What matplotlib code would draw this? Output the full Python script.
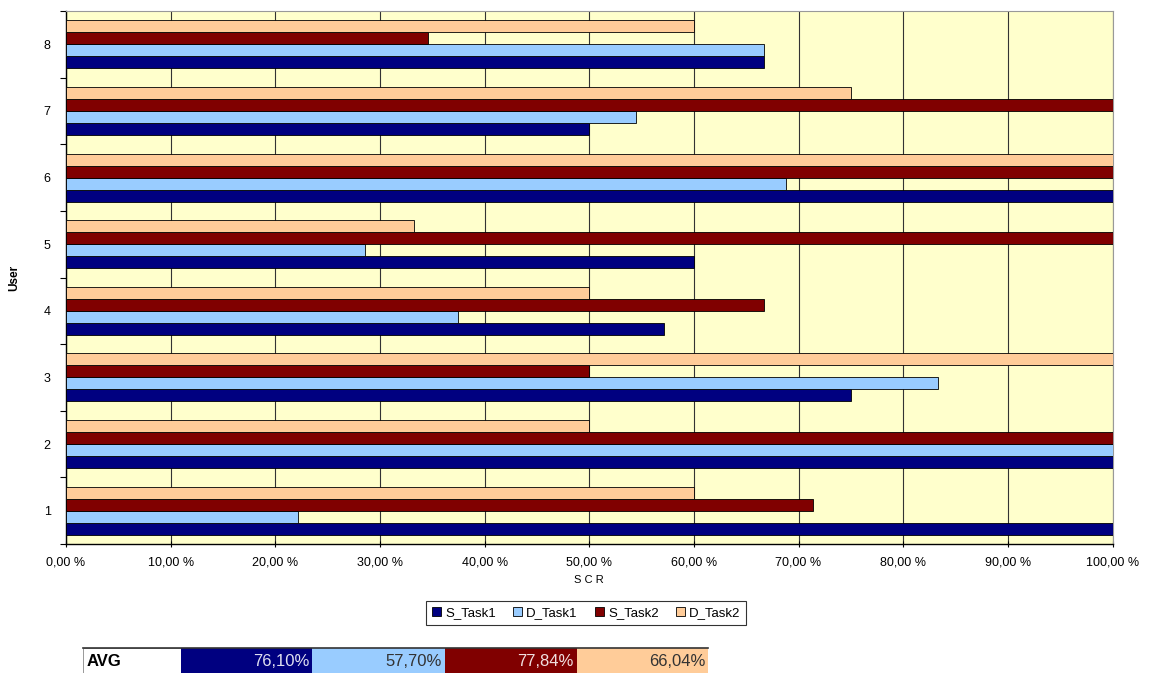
import numpy as np
import matplotlib
matplotlib.use("Agg")
import matplotlib.pyplot as plt
from matplotlib.patches import Rectangle
from matplotlib.ticker import FixedLocator

plt.rcParams["font.family"] = ["Liberation Sans", "DejaVu Sans"]

users = ["1", "2", "3", "4", "5", "6", "7", "8"]
series = ["S_Task1", "D_Task1", "S_Task2", "D_Task2"]
s_task1 = [100.0, 100.0, 75.0, 57.1, 60.0, 100.0, 50.0, 66.7]
d_task1 = [22.2, 100.0, 83.3, 37.5, 28.6, 68.8, 54.5, 66.7]
s_task2 = [71.4, 100.0, 50.0, 66.7, 100.0, 100.0, 100.0, 34.6]
d_task2 = [60.0, 50.0, 100.0, 50.0, 33.3, 100.0, 75.0, 60.0]
avg_values = [76.10, 57.70, 77.84, 66.04]
x_ticks = [0, 10, 20, 30, 40, 50, 60, 70, 80, 90, 100]

colors = ["#000080", "#99CCFF", "#800000", "#FFCC99"]
avg_text_colors = ["#E0E0F0", "#333333", "#F0E0E0", "#333333"]

fig = plt.figure(figsize=(11.49, 6.73), dpi=100)
ax = fig.add_axes([66 / 1149, 1 - 544 / 673, (1112.5 - 66) / 1149, (544 - 11) / 673])
ax.set_facecolor("#FFFFCC")

pos = np.arange(len(users))
h = 0.18
for k, (name, vals) in enumerate(zip(series, [s_task1, d_task1, s_task2, d_task2])):
    ax.barh(pos + (k - 1.5) * h, vals, height=h, color=colors[k],
            edgecolor="black", linewidth=0.6, label=name, zorder=3)

ax.set_xlim(0, 100)
ax.set_ylim(-0.5, len(users) - 0.5)
ax.set_xticks(x_ticks)
ax.set_xticklabels([f"{v:.2f}".replace(".", ",") + " %" for v in x_ticks], fontsize=9)
ax.set_yticks(pos)
ax.set_yticklabels(users, fontsize=9)
ax.tick_params(axis="y", length=0, pad=11)
ax.yaxis.set_minor_locator(FixedLocator(np.arange(-0.5, len(users), 1.0)))
ax.tick_params(axis="y", which="minor", length=4, width=0.8)
ax.tick_params(axis="x", length=4, width=0.8, direction="inout", pad=7)
ax.grid(axis="x", color="#333333", linewidth=0.8, zorder=0)
ax.set_axisbelow(True)
for side in ["top", "right"]:
    ax.spines[side].set_color("#999999")
for side in ["left", "bottom"]:
    ax.spines[side].set_linewidth(1.0)

ax.set_xlabel("S C R", fontsize=8, labelpad=5)
ax.set_ylabel("User", fontsize=8.5, fontweight="bold", labelpad=17)

leg = ax.legend(loc="upper center", bbox_to_anchor=(0.497, -0.107), ncol=4,
                prop={"size": 9.5}, frameon=True, fancybox=False, handlelength=0.7,
                handleheight=0.7, handletextpad=0.3, columnspacing=1.3,
                borderpad=0.45, borderaxespad=0, edgecolor="black")
leg.get_frame().set_linewidth(0.8)

# AVG row under the chart
tax = fig.add_axes([83 / 1149, 0, (708 - 83) / 1149, (673 - 648) / 673])
tax.set_xlim(0, 625)
tax.set_ylim(0, 25)
tax.axis("off")
tax.add_patch(Rectangle((0, 0), 98, 25, facecolor="white", edgecolor="#888888", linewidth=0.6))
tax.text(4, 12, "AVG", fontsize=12, fontweight="bold", va="center", ha="left")
widths = [131, 133, 132, 131]
x0 = 98
for k, v in enumerate(avg_values):
    tax.add_patch(Rectangle((x0, 0), widths[k], 25, facecolor=colors[k], edgecolor="none"))
    tax.text(x0 + widths[k] - 3, 12, f"{v:.2f}".replace(".", ",") + "%",
             fontsize=12, color=avg_text_colors[k], va="center", ha="right")
    x0 += widths[k]
tax.plot([0, 625], [25, 25], color="#333333", linewidth=1.2, clip_on=False)

fig.savefig("out.png", dpi=100)
